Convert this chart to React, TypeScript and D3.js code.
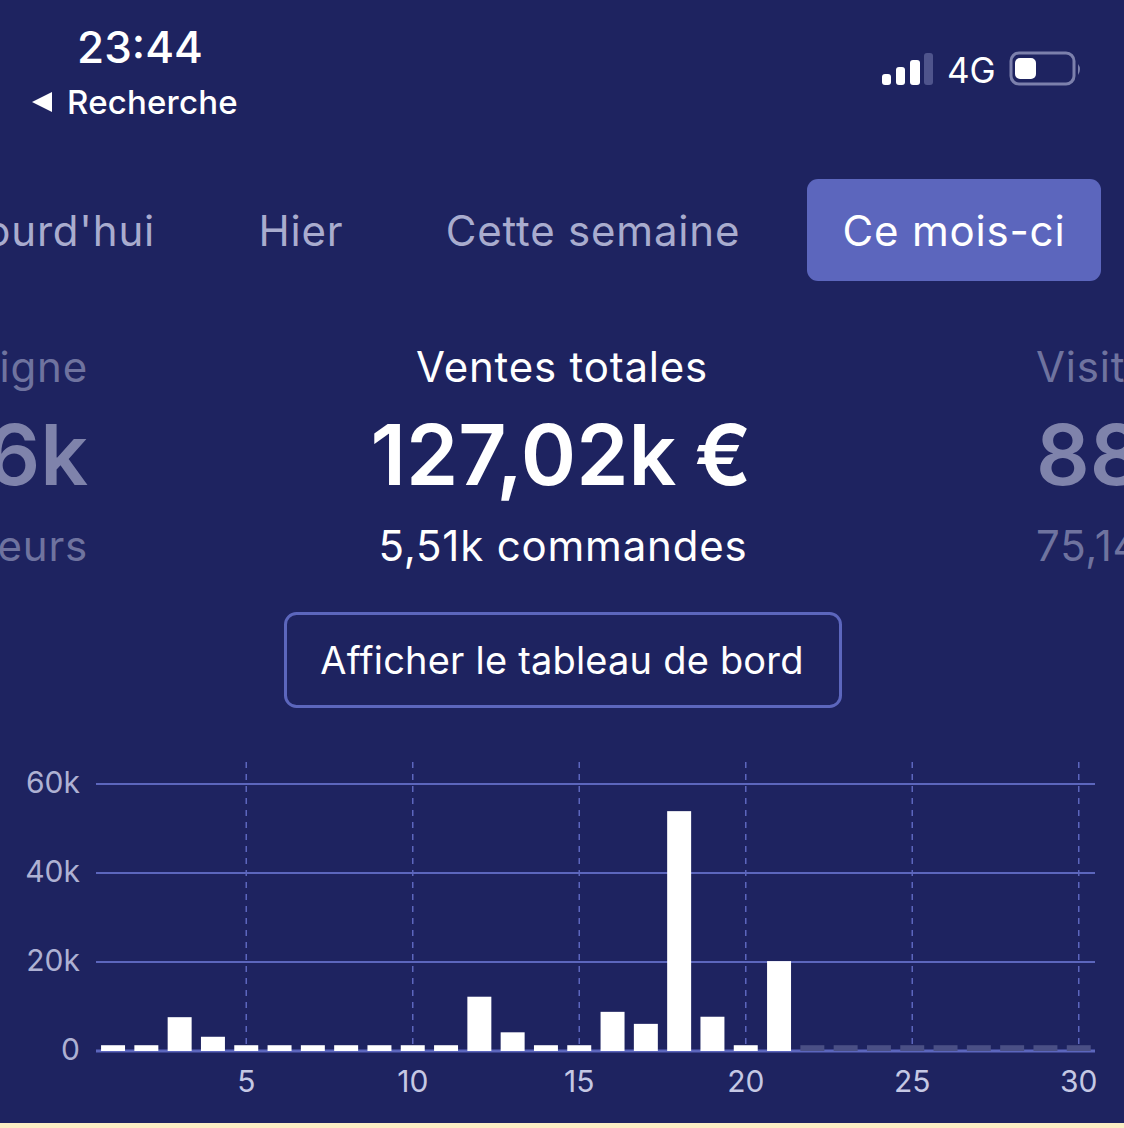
import React, { useEffect, useRef } from 'react';
import * as d3 from 'd3';

// day of month, sales in euros (stub values are the chart's minimum bar height)
const days = d3.range(1, 31);
const sales = [1300, 1300, 7600, 3200, 1300, 1300, 1300, 1300, 1300, 1300, 1300, 12200, 4200, 1300, 1300, 8800, 6100, 53900, 7700, 1300, 20200];
const futureSales = [1300, 1300, 1300, 1300, 1300, 1300, 1300, 1300, 1300];
const yTicks = [0, 20000, 40000, 60000];
const xTicks = [5, 10, 15, 20, 25, 30];

const BG = '#1e2360';
const ACCENT = '#5c66bd';
const FONT = 'Inter, sans-serif';
const SPACING = 0.8;

const App: React.FC = () => {
    const chartRef = useRef<SVGGElement>(null);

    useEffect(() => {
        if (!chartRef.current) return;
        const g = d3.select(chartRef.current);
        g.selectAll('*').remove();

        const x = d3.scaleBand<number>().domain(days).range([96.4, 1095.4]).paddingInner(0.28).paddingOuter(0.14);
        const y = d3.scaleLinear().domain([0, 60000]).range([1051, 784]);
        const center = (d: number) => (x(d) ?? 0) + x.bandwidth() / 2;

        // horizontal grid
        g.append('g')
            .selectAll('line')
            .data(yTicks)
            .join('line')
            .attr('x1', 96)
            .attr('x2', 1095)
            .attr('y1', d => y(d))
            .attr('y2', d => y(d))
            .attr('stroke', ACCENT)
            .attr('stroke-width', d => (d === 0 ? 3 : 2));

        // vertical dashed grid
        g.append('g')
            .selectAll('line')
            .data(xTicks)
            .join('line')
            .attr('x1', center)
            .attr('x2', center)
            .attr('y1', 762)
            .attr('y2', 1046)
            .attr('stroke', ACCENT)
            .attr('stroke-width', 1.5)
            .attr('stroke-dasharray', '6 6');

        g.append('g')
            .selectAll('rect')
            .data(sales)
            .join('rect')
            .attr('x', (_, i) => x(days[i]) ?? 0)
            .attr('y', d => y(d))
            .attr('width', x.bandwidth())
            .attr('height', d => y(0) - y(d))
            .attr('fill', '#ffffff');

        g.append('g')
            .selectAll('rect')
            .data(futureSales)
            .join('rect')
            .attr('x', (_, i) => x(days[sales.length + i]) ?? 0)
            .attr('y', d => y(d))
            .attr('width', x.bandwidth())
            .attr('height', d => y(0) - y(d))
            .attr('fill', '#4a4f85');

        // tick labels
        const yAxis = d3.axisLeft(y)
            .tickValues(yTicks)
            .tickSize(0)
            .tickPadding(0)
            .tickFormat(d => (+d === 0 ? '0' : `${+d / 1000}k`));
        const yG = g.append('g').attr('transform', 'translate(80,-1)').call(yAxis);
        yG.select('.domain').remove();
        yG.selectAll('text').attr('font-size', 30).attr('font-family', FONT).attr('fill', '#aeb1d3').attr('dy', '0.32em');

        const xAxis = d3.axisBottom(x).tickValues(xTicks).tickSize(0).tickPadding(0);
        const xG = g.append('g').attr('transform', 'translate(0,1071)').call(xAxis);
        xG.select('.domain').remove();
        xG.selectAll('text').attr('font-size', 30).attr('font-family', FONT).attr('fill', '#c5c8e4');
    }, []);

    return (
        <svg width={1124} height={1128} style={{ position: 'absolute', left: 0, top: 0 }} fontFamily={FONT}>
            <rect width={1124} height={1128} fill={BG} />
            <rect y={1123} width={1124} height={5} fill="#fbeec4" />

            {/* status bar */}
            <text x={140} y={63} fontSize={44} fontWeight={500} fill="#fff" textAnchor="middle">23:44</text>
            <path d="M32 102 L52 92 L52 112 Z" fill="#fff" />
            <text x={67} y={114} fontSize={33} fontWeight={500} fill="#fff" letterSpacing={0.2}>Recherche</text>
            <rect x={882} y={74} width={9} height={11} rx={3} fill="#fff" />
            <rect x={896} y={67} width={9} height={18} rx={3} fill="#fff" />
            <rect x={910} y={60} width={10} height={25} rx={3} fill="#fff" />
            <rect x={924} y={53} width={9} height={32} rx={3} fill="#4f548c" />
            <text x={947} y={83} fontSize={35} fontWeight={400} fill="#fff">4G</text>
            <rect x={1011} y={53} width={63} height={31} rx={8} fill="none" stroke="#7c80ac" strokeWidth={3} />
            <rect x={1015} y={58} width={21} height={21} rx={5} fill="#fff" />
            <path d="M1078 64 Q1082 69 1078 75 Z" fill="#7c80ac" />

            {/* period tabs */}
            <g fontSize={42} letterSpacing={SPACING}>
                <rect x={807} y={179} width={294} height={102} rx={11} fill={ACCENT} />
                <text x={155} y={246} fill="#a9acce" textAnchor="end">ourd'hui</text>
                <text x={301} y={246} fill="#a9acce" textAnchor="middle">Hier</text>
                <text x={593} y={246} fill="#a9acce" textAnchor="middle">Cette semaine</text>
                <text x={954} y={246} fill="#fff" textAnchor="middle">Ce mois-ci</text>
            </g>

            {/* metrics */}
            <g fontSize={42} letterSpacing={SPACING}>
                <text x={88} y={382} fill="#6f739f" textAnchor="end">igne</text>
                <text x={88} y={561} fill="#6f739f" textAnchor="end">eurs</text>
                <text x={562} y={382} fill="#fff" textAnchor="middle">Ventes totales</text>
                <text x={563} y={561} fill="#fff" textAnchor="middle">5,51k commandes</text>
                <text x={1036} y={382} fill="#6f739f">Visit</text>
                <text x={1036} y={561} fill="#6f739f">75,14</text>
            </g>
            <g fontSize={84} fontWeight={600}>
                <text x={88} y={485} fill="#7f83ab" textAnchor="end">6k</text>
                <text x={561} y={485} fill="#fff" textAnchor="middle" wordSpacing={-3}>127,02k €</text>
                <text x={1036} y={485} fill="#7f83ab">88</text>
            </g>

            {/* dashboard button */}
            <rect x={285.5} y={613.5} width={555} height={93} rx={11} fill="none" stroke={ACCENT} strokeWidth={3} />
            <text x={562} y={674} fontSize={38} fill="#fff" textAnchor="middle" letterSpacing={0.2}>Afficher le tableau de bord</text>

            <g ref={chartRef} />
        </svg>
    );
};

export default App;
